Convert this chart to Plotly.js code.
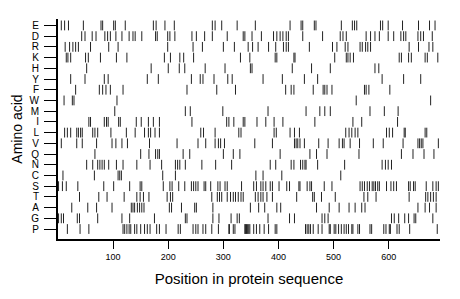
<!DOCTYPE html>
<html>
<head>
<meta charset="utf-8">
<script src="https://cdn.plot.ly/plotly-3.0.1.min.js"></script>
<style>html,body{margin:0;padding:0;background:#fff;}#chart{width:460px;height:299px;}</style>
</head>
<body>
<div id="chart"></div>
<script>
const aminoAcids = ["E","D","R","K","H","Y","F","W","M","I","L","V","Q","N","C","S","T","A","G","P"];
const xTicks = [100, 200, 300, 400, 500, 600];
const proteinLength = 693;

const E = [6,12,19,46,78,81,101,104,122,173,178,194,211,280,285,297,325,358,421,441,444,465,468,514,534,538,542,585,589,599,625,654,674,684];
const D = [43,49,62,69,85,90,95,105,116,129,136,140,152,177,180,199,203,212,243,251,266,280,307,336,339,352,369,391,397,403,408,414,418,444,480,512,517,523,559,567,575,583,599,609,622,627,631,653,658,663,679];
const R = [13,21,27,32,37,59,92,109,199,245,262,300,320,345,353,363,382,395,409,414,418,456,498,506,521,526,548,552,558,562,567,637,654,673,680];
const K = [15,18,23,50,55,77,106,125,193,204,221,228,246,331,348,394,397,428,430,502,523,526,530,536,619,623,636,641,666,670,689];
const H = [52,169,200,220,230,267,303,349,352,425,460,494,575,582];
const Y = [23,49,84,91,162,182,242,258,263,283,308,316,372,407,447,471,588,627,658];
const F = [32,75,81,87,95,118,234,288,322,413,423,428,463,481,484,488,497,556,559,564,602];
const W = [11,26,29,107,541,676];
const M = [103,231,240,299,381,450,475,484,494,566,592,617];
const I = [56,59,84,88,91,110,113,142,151,164,173,184,243,306,310,319,336,339,361,377,392,408,466,535,551,616];
const L = [12,17,23,34,37,41,44,63,67,72,96,124,140,157,164,168,176,184,259,264,285,328,332,392,396,421,429,438,522,528,533,539,544,596,601,607,628,630,666,669];
const V = [6,34,44,70,98,105,116,126,166,216,254,268,285,291,295,302,357,389,429,432,435,439,447,473,490,510,516,519,530,547,572,590,626,653,656,659,662,690];
const Q = [67,150,165,177,181,184,227,239,300,318,330,403,457,469,488,546,623,644,664,682];
const N = [52,63,72,76,80,84,92,106,118,143,167,188,213,217,221,231,261,286,315,385,395,423,428,440,444,448,450,471,520,588,594,599,605];
const C = [9,66,109,112,115,190,213,359,372,406,513];
const S = [1,8,15,36,83,101,130,149,152,191,203,207,219,230,242,246,250,254,265,268,277,290,294,303,307,333,355,360,368,372,377,385,389,401,415,420,437,439,452,457,460,483,497,548,552,556,561,565,570,573,576,580,583,596,604,609,614,636,639,645,648,668,680,686,690];
const T = [39,74,89,120,143,149,155,165,198,204,208,279,289,293,297,307,313,318,322,327,332,336,358,363,368,372,379,389,433,462,465,478,503,555,562,577,637,667,671,676,681,686];
const A = [25,54,70,98,133,136,139,144,148,152,156,202,206,224,248,251,281,349,364,375,397,404,469,492,510,528,539,551,557,653,666,674,686];
const G = [1,6,10,35,39,72,116,130,175,231,234,281,292,314,325,329,381,420,429,479,484,490,605,610,618,629,636,646,649,680];
const P = [17,40,56,118,121,125,129,132,139,143,150,157,162,167,179,184,196,218,222,245,250,254,263,268,279,291,310,311,318,321,339,340,342,344,346,348,355,360,366,374,382,394,397,449,452,455,458,463,472,479,492,494,501,504,509,514,519,523,527,533,535,544,547,566,569,591,595,601,603,615,619,638,688];

const positions = {E,D,R,K,H,Y,F,W,M,I,L,V,Q,N,C,S,T,A,G,P};

const xs = [], ys = [];
aminoAcids.forEach(aa => {
  positions[aa].forEach(p => { xs.push(p); ys.push(aa); });
});

const trace = {
  type: "scatter",
  mode: "markers",
  x: xs,
  y: ys,
  marker: {symbol: "line-ns-open", size: 7, color: "#222", line: {color: "#222", width: 1}},
  hoverinfo: "x+y",
  showlegend: false
};

const font = "Liberation Sans, Arial, Helvetica, sans-serif";
const layout = {
  width: 460,
  height: 299,
  margin: {l: 58, r: 20, t: 18.6, b: 60},
  paper_bgcolor: "#fff",
  plot_bgcolor: "#fff",
  font: {family: font, color: "#000", size: 9},
  xaxis: {
    range: [0, proteinLength],
    tickmode: "array",
    tickvals: xTicks,
    ticktext: xTicks.map(String),
    ticks: "outside",
    ticklen: 8,
    tickwidth: 1,
    tickcolor: "#000",
    showline: true,
    linecolor: "#000",
    linewidth: 2,
    showgrid: false,
    zeroline: false,
    tickfont: {family: font, size: 9, color: "#000"},
    title: {text: "Position in protein sequence", font: {family: font, size: 15, color: "#000"}, standoff: 13}
  },
  yaxis: {
    type: "category",
    categoryorder: "array",
    categoryarray: aminoAcids,
    tickmode: "array",
    tickvals: aminoAcids,
    ticktext: aminoAcids,
    range: [19.93, -0.6],
    ticks: "outside",
    ticklen: 12,
    tickwidth: 1,
    tickcolor: "#000",
    ticklabelstandoff: 3,
    showline: true,
    linecolor: "#000",
    linewidth: 2,
    showgrid: false,
    zeroline: false,
    tickfont: {family: font, size: 10, color: "#000"},
    title: {text: "Amino acid", font: {family: font, size: 14, color: "#000"}, standoff: 4}
  }
};

Plotly.newPlot("chart", [trace], layout, {displayModeBar: false, staticPlot: true});
</script>
</body>
</html>
